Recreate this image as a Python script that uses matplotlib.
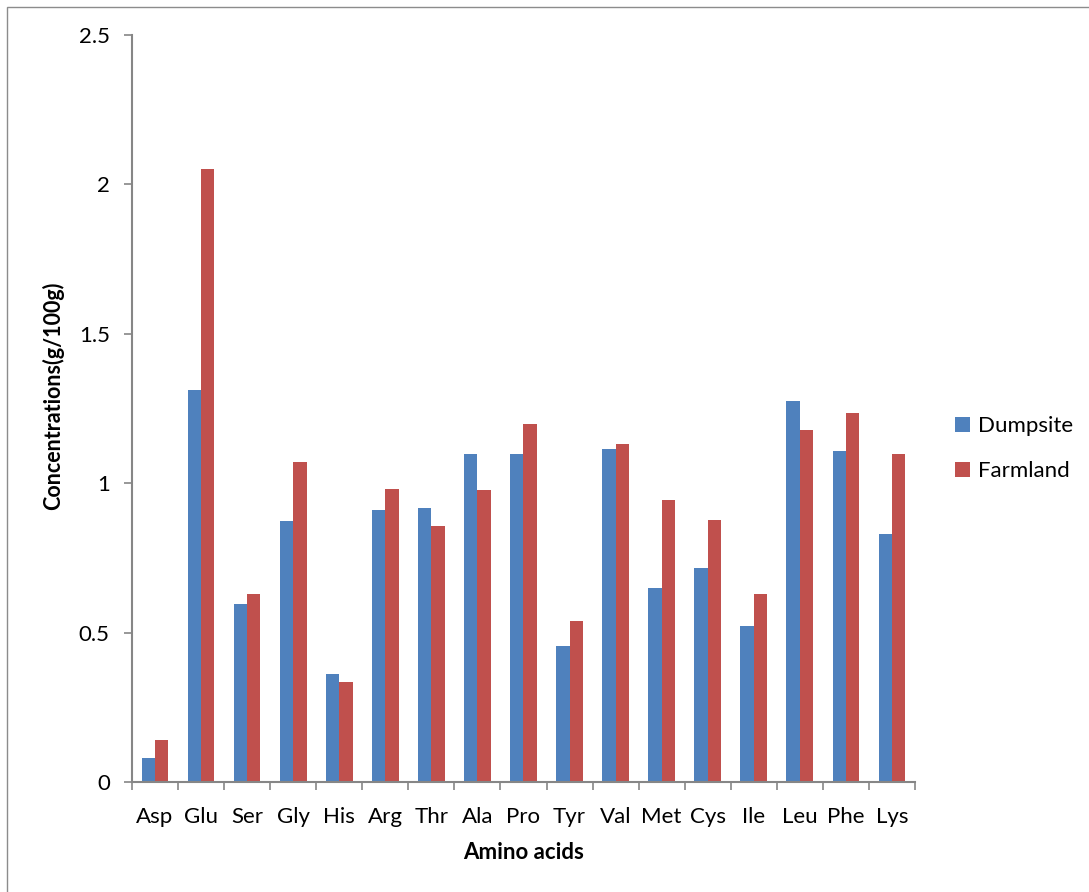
import numpy as np
import matplotlib.pyplot as plt
from matplotlib.patches import Rectangle

plt.rcParams['font.family'] = ['Lato', 'DejaVu Sans']

amino = ['Asp', 'Glu', 'Ser', 'Gly', 'His', 'Arg', 'Thr', 'Ala', 'Pro',
         'Tyr', 'Val', 'Met', 'Cys', 'Ile', 'Leu', 'Phe', 'Lys']
dumpsite = [0.081, 1.311, 0.595, 0.873, 0.360, 0.910, 0.916, 1.097, 1.096,
            0.455, 1.114, 0.650, 0.715, 0.523, 1.273, 1.106, 0.828]
farmland = [0.140, 2.049, 0.629, 1.070, 0.333, 0.980, 0.856, 0.977, 1.198,
            0.538, 1.130, 0.942, 0.875, 0.628, 1.177, 1.235, 1.096]

fig = plt.figure(figsize=(10.89, 8.92), dpi=100)
ax = fig.add_axes([0.1212, 0.1233, 0.719, 0.838])

# thin grey frame round the whole chart
fig.patches.append(Rectangle((7 / 1089, -0.1), 1.2, 1.1 - 7 / 892,
                             transform=fig.transFigure, fill=False,
                             edgecolor='#8c8c8c', linewidth=1.0))

x = np.arange(len(amino))
w = 0.29
ax.bar(x - w / 2, dumpsite, w, color='#4F81BD', label='Dumpsite')
ax.bar(x + w / 2, farmland, w, color='#C0504D', label='Farmland')

ax.set_xlim(-0.5, len(amino) - 0.5)
ax.set_ylim(0, 2.5)
ax.set_yticks([0, 0.5, 1, 1.5, 2, 2.5])
ax.set_yticklabels(['0', '0.5', '1', '1.5', '2', '2.5'])
ax.set_xticks(x)
ax.set_xticklabels(amino)
ax.set_xticks(np.arange(len(amino) + 1) - 0.5, minor=True)

ax.tick_params(axis='x', which='major', length=0, pad=18, labelsize=16)
ax.tick_params(axis='x', which='minor', length=6, width=1.2, color='#868686', direction='out')
ax.tick_params(axis='y', length=6, width=1.2, color='#868686', pad=10, labelsize=16)

for s in ['top', 'right']:
    ax.spines[s].set_visible(False)
for s in ['left', 'bottom']:
    ax.spines[s].set_color('#868686')
    ax.spines[s].set_linewidth(1.5)

ax.set_xlabel('Amino acids', fontsize=16, fontweight='bold', labelpad=11)
ax.set_ylabel('Concentrations(g/100g)', fontsize=15.5, fontweight='bold')
ax.yaxis.set_label_coords(-0.087, 0.516)

fig.legend(loc='center left', bbox_to_anchor=(0.859, 0.497), frameon=False,
           fontsize=16, handlelength=0.65, handleheight=0.65, handletextpad=0.35,
           labelspacing=1.15)

fig.savefig('out.png', dpi=100)
